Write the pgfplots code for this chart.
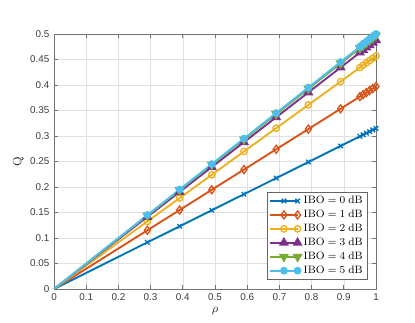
\documentclass[border=0pt]{standalone}
\usepackage[no-math]{fontspec}
\setmainfont{Liberation Sans}
\usepackage{pgfplots}
\pgfplotsset{compat=1.18}
\definecolor{c0}{HTML}{0072BD}
\definecolor{c1}{HTML}{D95319}
\definecolor{c2}{HTML}{EDB120}
\definecolor{c3}{HTML}{7E2F8E}
\definecolor{c4}{HTML}{77AC30}
\definecolor{c5}{HTML}{4DBEEE}
\definecolor{axgray}{HTML}{262626}
\begin{document}
\begin{tikzpicture}
\useasboundingbox (-40.5pt,-25.5pt) rectangle (270.75pt,216.75pt);
\begin{axis}[
  scale only axis, width=241.5pt, height=191.25pt,
  xmin=0, xmax=1, ymin=0, ymax=0.5,
  xtick={0,0.1,...,1.01}, ytick={0,0.05,...,0.51},
  xticklabels={0,0.1,0.2,0.3,0.4,0.5,0.6,0.7,0.8,0.9,1},
  yticklabels={0,0.05,0.1,0.15,0.2,0.25,0.3,0.35,0.4,0.45,0.5},
  /pgf/number format/assume math mode=true,
  tick label style={font=\fontsize{7.4}{8}\selectfont, text=axgray!90},
  label style={font=\fontsize{9}{10}\selectfont, text=axgray},
  xlabel={$\rho$}, ylabel={$\mathrm{Q}$},
  xlabel style={yshift=2pt}, ylabel style={yshift=-2pt},
  axis line style={black!55, line width=0.5pt},
  tick style={black!55, line width=0.5pt},
  major tick length=3pt,
  tick align=inside,
  xtick pos=both, ytick pos=both,
  grid=major, major grid style={black!12, line width=0.4pt},
  legend style={at={(rel axis cs:1,0)}, anchor=south east, xshift=-6.5pt, yshift=6.75pt,
    draw=black!60, fill=white, line width=0.5pt,
    font=\fontsize{8.1}{10}\selectfont, row sep=-0.6pt, inner sep=1.2pt},
  legend cell align=left,
  legend image code/.code={\draw[mark repeat=2,mark phase=2,#1] plot coordinates {(0cm,0cm) (0.36cm,0cm) (0.72cm,0cm)};},
  every axis plot/.append style={line width=1.4pt, mark size=2.4pt, mark indices={2,...,14}},
]
\addplot[c0, mark=x, mark options={line width=1pt}] coordinates {
(0,0) (0.29,0.0914) (0.39,0.1229) (0.49,0.1544) (0.59,0.1859) (0.69,0.2174) (0.79,0.2489) (0.89,0.2804) (0.95,0.2993) (0.96,0.3024) (0.97,0.3056) (0.98,0.3087) (0.99,0.3119) (1,0.315)};
\addlegendentry{$\mathrm{IBO} = 0\ \mathrm{dB}$}
\addplot[c1, mark=diamond, mark options={line width=1pt, mark size=3pt}] coordinates {
(0,0) (0.29,0.1151) (0.39,0.1548) (0.49,0.1945) (0.59,0.2342) (0.69,0.2739) (0.79,0.3136) (0.89,0.3533) (0.95,0.3772) (0.96,0.3811) (0.97,0.3851) (0.98,0.3891) (0.99,0.3930) (1,0.397)};
\addlegendentry{$\mathrm{IBO} = 1\ \mathrm{dB}$}
\addplot[c2, mark=o, mark options={line width=1pt}] coordinates {
(0,0) (0.29,0.1325) (0.39,0.1782) (0.49,0.2239) (0.59,0.2696) (0.69,0.3153) (0.79,0.3610) (0.89,0.4067) (0.95,0.4342) (0.96,0.4387) (0.97,0.4433) (0.98,0.4479) (0.99,0.4524) (1,0.457)};
\addlegendentry{$\mathrm{IBO} = 2\ \mathrm{dB}$}
\addplot[c3, mark=triangle*, mark options={mark size=3pt}] coordinates {
(0,0) (0.29,0.1415) (0.39,0.1903) (0.49,0.2391) (0.59,0.2879) (0.69,0.3367) (0.79,0.3855) (0.89,0.4343) (0.95,0.4636) (0.96,0.4685) (0.97,0.4734) (0.98,0.4782) (0.99,0.4831) (1,0.488)};
\addlegendentry{$\mathrm{IBO} = 3\ \mathrm{dB}$}
\addplot[c4, mark=triangle*, mark options={rotate=180, mark size=3pt}] coordinates {
(0,0) (0.29,0.1441) (0.39,0.1938) (0.49,0.2435) (0.59,0.2932) (0.69,0.3429) (0.79,0.3926) (0.89,0.4423) (0.95,0.4722) (0.96,0.4771) (0.97,0.4821) (0.98,0.4871) (0.99,0.4920) (1,0.497)};
\addlegendentry{$\mathrm{IBO} = 4\ \mathrm{dB}$}
\addplot[c5, mark=*, mark options={mark size=2.2pt}] coordinates {
(0,0) (0.29,0.145) (0.39,0.195) (0.49,0.245) (0.59,0.295) (0.69,0.345) (0.79,0.395) (0.89,0.445) (0.95,0.475) (0.96,0.48) (0.97,0.485) (0.98,0.49) (0.99,0.495) (1,0.5)};
\addlegendentry{$\mathrm{IBO} = 5\ \mathrm{dB}$}
\end{axis}
\end{tikzpicture}
\end{document}
